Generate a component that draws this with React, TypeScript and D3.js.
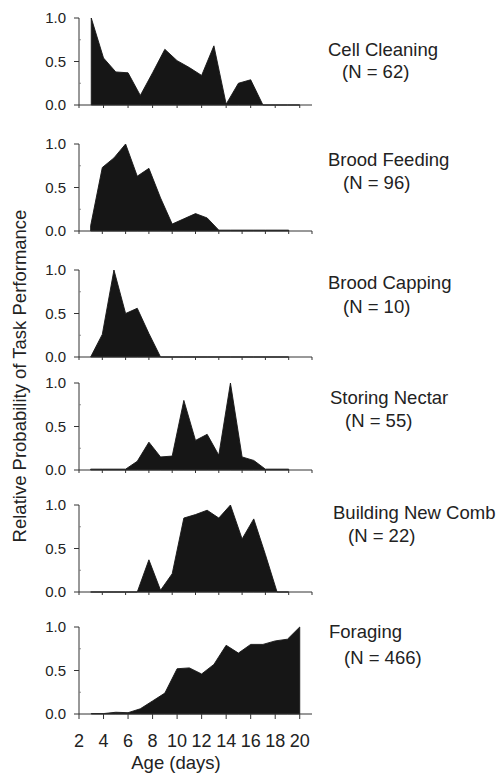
import React from 'react';
import * as d3 from 'd3';

// age in days, shared by all panels
const ages = [3, 4, 5, 6, 7, 8, 9, 10, 11, 12, 13, 14, 15, 16, 17, 18, 19, 20];

const cellCleaning = [1.0, 0.54, 0.38, 0.37, 0.11, 0.37, 0.64, 0.51, 0.43, 0.34, 0.68, 0.01, 0.25, 0.29, 0, 0, 0, 0];
const broodFeeding = [0.06, 0.73, 0.84, 1.0, 0.63, 0.72, 0.38, 0.08, 0.14, 0.2, 0.15, 0.01, 0.01, 0.01, 0.01, 0.01, 0.01, 0.01];
const broodCapping = [0, 0.26, 1.0, 0.5, 0.56, 0.27, 0, 0, 0, 0, 0, 0, 0, 0, 0, 0, 0, 0];
const storingNectar = [0.01, 0.01, 0.01, 0.01, 0.1, 0.32, 0.15, 0.16, 0.8, 0.34, 0.41, 0.17, 1.0, 0.15, 0.11, 0.01, 0.01, 0.01];
const buildingComb = [0, 0, 0, 0, 0, 0.37, 0.02, 0.21, 0.85, 0.89, 0.94, 0.85, 1.0, 0.61, 0.84, 0.43, 0, 0];
const foraging = [0.005, 0.005, 0.02, 0.015, 0.06, 0.15, 0.24, 0.52, 0.53, 0.46, 0.57, 0.79, 0.7, 0.8, 0.8, 0.84, 0.86, 1.0];

const taskNames = ['Cell Cleaning', 'Brood Feeding', 'Brood Capping', 'Storing Nectar', 'Building New Comb', 'Foraging'];
const sampleSizes = ['(N = 62)', '(N = 96)', '(N = 10)', '(N = 55)', '(N = 22)', '(N = 466)'];
const series = [cellCleaning, broodFeeding, broodCapping, storingNectar, buildingComb, foraging];

const yTickLabels = [0, 0.5, 1];
const xTicksShort = [2, 4, 6, 8, 10, 12, 14, 16, 18, 20];
const xTicksLong = [2, 4, 6, 8, 10, 12, 14, 16, 18, 20, 22];

// layout
const panelTop = [18, 144, 270, 383, 505, 627];
const panelH = 87;
const xMaxDomain = [21, 22, 22, 22, 22, 21];
const labelPos = [
    {x: 328, y: 56, nx: 342, ny: 78},
    {x: 328, y: 165.5, nx: 343, ny: 189},
    {x: 328, y: 288.5, nx: 343, ny: 312.5},
    {x: 330, y: 404, nx: 345, ny: 426.5},
    {x: 333, y: 519, nx: 348, ny: 542},
    {x: 329, y: 638, nx: 344, ny: 664},
];

const W = 501;
const H = 777;
const left = 79;
const right = 312;
const font = '"Liberation Sans", Arial, Helvetica, sans-serif';
const ink = '#161616';

function Panel({ i }: { i: number }) {
    const top = panelTop[i];
    const values = series[i];
    const x = d3.scaleLinear().domain([2, xMaxDomain[i]]).range([left, right]);
    const y = d3.scaleLinear().domain([0, 1]).range([top + panelH, top]);
    const ticks = xMaxDomain[i] === 21 ? xTicksShort : xTicksLong;
    const last = i === series.length - 1;

    const area = d3.area<number>()
        .x((d, k) => x(ages[k]))
        .y0(y(0))
        .y1(d => y(d))
        .curve(d3.curveLinear);

    return (
        <g>
            <path d={area(values) || ''} fill={ink} stroke={ink} strokeWidth={0.9} strokeLinejoin="miter" />
            {/* x axis */}
            <line x1={left} x2={right} y1={y(0)} y2={y(0)} stroke="#333" strokeWidth={1} />
            {ticks.map(t => (
                <line key={t} x1={x(t)} x2={x(t)} y1={y(0)} y2={y(0) + (last ? 5 : 3)} stroke="#333" strokeWidth={1} />
            ))}
            {/* y axis */}
            <line x1={left} x2={left} y1={y(1)} y2={y(0)} stroke="#333" strokeWidth={1} />
            {yTickLabels.map(t => (
                <g key={t}>
                    <line x1={left - 5} x2={left} y1={y(t)} y2={y(t)} stroke="#333" strokeWidth={1} />
                    <text x={left - 13} y={y(t)} dy="0.35em" textAnchor="end" fontSize={15} fill="#222" fontFamily={font}>
                        {d3.format('.1f')(t)}
                    </text>
                </g>
            ))}
            {[0.25, 0.75].map(t => (
                <line key={t} x1={left} x2={left + 2} y1={y(t)} y2={y(t)} stroke="#777" strokeWidth={0.8} />
            ))}
            {last && ticks.map(t => (
                <text key={'l' + t} x={x(t)} y={746.5} textAnchor="middle" fontSize={18} fill="#222" fontFamily={font}>
                    {t}
                </text>
            ))}
            <text x={labelPos[i].x} y={labelPos[i].y} fontSize={18.5} fill="#222" fontFamily={font}>{taskNames[i]}</text>
            <text x={labelPos[i].nx} y={labelPos[i].ny} fontSize={18.5} fill="#222" fontFamily={font}>{sampleSizes[i]}</text>
        </g>
    );
}

export default function App() {
    return (
        <svg width={W} height={H} style={{position: 'absolute', left: 0, top: 0, background: '#fff'}}>
            {series.map((s, i) => <Panel key={taskNames[i]} i={i} />)}
            <text transform="translate(26,376) rotate(-90)" textAnchor="middle" fontSize={18.5} fill="#222" fontFamily={font}>
                Relative Probability of Task Performance
            </text>
            <text x={176} y={769} textAnchor="middle" fontSize={18.5} fill="#222" fontFamily={font}>Age (days)</text>
        </svg>
    );
}
